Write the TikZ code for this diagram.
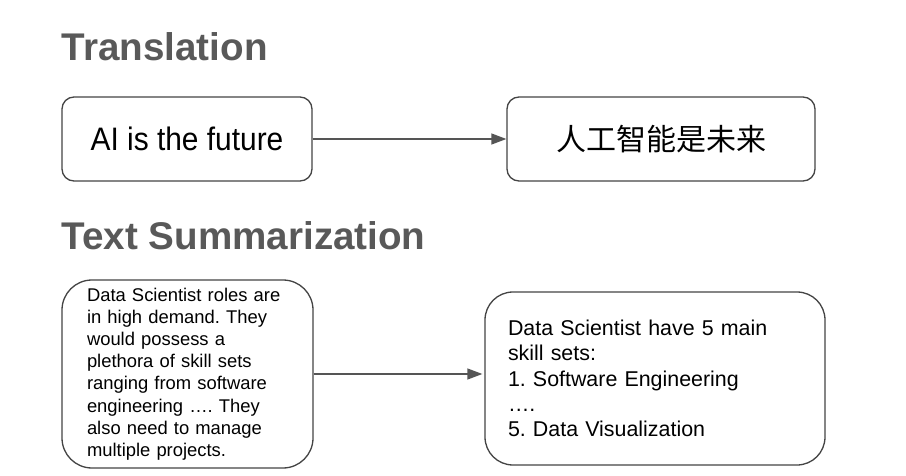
\documentclass[tikz,border=0pt]{standalone}
\usepackage{fontspec}
\setmainfont{Liberation Sans}
\newfontfamily\cjk{Noto Sans CJK SC}
\newfontfamily\condfont[FakeStretch=0.92]{Liberation Sans}
\usetikzlibrary{arrows.meta}
\definecolor{titlegray}{HTML}{595959}
\definecolor{boxline}{HTML}{444444}
\definecolor{arrowgray}{HTML}{555555}
\tikzset{
  titletext/.style={anchor=base west, inner sep=0pt, text=titlegray,
    font=\fontsize{38.6}{44}\selectfont\bfseries},
  roundbox/.style={draw=boxline, line width=1.3pt, fill=white},
  flow/.style={draw=arrowgray, line width=1.3pt,
    -{Triangle[length=15pt,width=11pt]}},
}
\begin{document}
\frenchspacing
\begin{tikzpicture}[x=1pt,y=-1pt]
\useasboundingbox[fill=white] (0,0) rectangle (906,476);

\node[titletext] (t1) at (61.5,60.5) {Translation};
\node[titletext] (t2) at (61.5,250) {Text Summarization};

\node[roundbox, rounded corners=12pt, minimum width=250pt, minimum height=84pt,
  inner sep=0pt, font=\condfont\fontsize{32.5}{36}\selectfont]
  (src1) at (187,139) {AI is the future};
\node[roundbox, rounded corners=12pt, minimum width=308pt, minimum height=84pt,
  inner sep=0pt, font=\cjk\fontsize{30}{36}\selectfont]
  (dst1) at (661,139) {人工智能是未来};

\node[roundbox, rounded corners=30pt, minimum width=251pt, minimum height=188pt,
  inner xsep=25pt, inner ysep=0pt, text width=201pt, align=left,
  font=\fontsize{18.4}{22.2}\selectfont]
  (src2) at (187.5,374) {Data Scientist roles are\\in high demand. They\\would possess a\\plethora of skill sets\\ranging from software\\engineering \dots. They\\also need to manage\\multiple projects.};
\node[roundbox, rounded corners=28pt, minimum width=340pt, minimum height=173pt,
  inner xsep=23pt, inner ysep=0pt, text width=294pt, align=left,
  font=\fontsize{21.4}{25.3}\selectfont]
  (dst2) at (655,378.5) {Data Scientist have 5 main\\skill sets:\\1. Software Engineering\\\dots.\\5. Data Visualization};

\draw[flow] (src1.east) -- (dst1.west);
\draw[flow, shorten >=2pt] (src2.east) -- (src2.east -| dst2.west);
\end{tikzpicture}
\end{document}
